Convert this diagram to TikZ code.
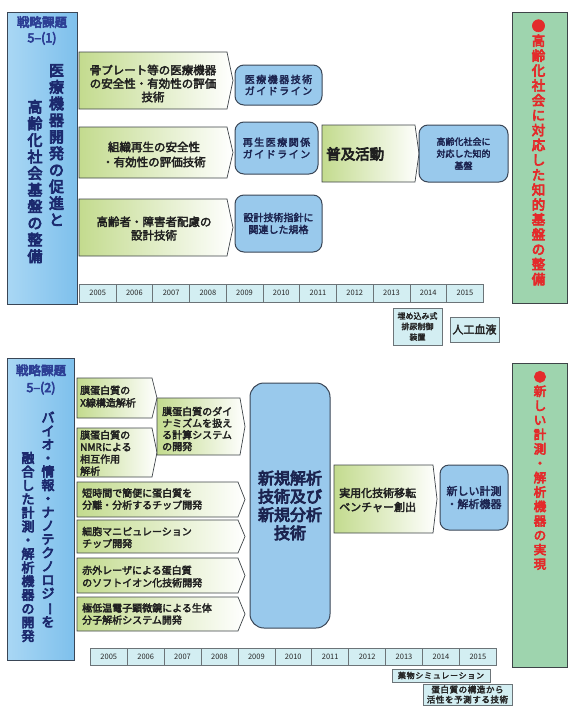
\documentclass[tikz,border=0pt]{standalone}
\usepackage{fontspec}
\setmainfont{Noto Sans CJK JP}[BoldFont={Noto Sans CJK JP}, BoldFeatures={FakeBold=3}]
\newfontfamily\heavy{Noto Sans CJK JP}[FakeBold=5]
\usepackage{graphicx}
\definecolor{navy}{HTML}{1C2A6E}
\definecolor{hdr}{HTML}{2D3F95}
\definecolor{bfill}{HTML}{99C9EC}
\definecolor{bline}{HTML}{3A4656}
\definecolor{btext}{HTML}{1C2450}
\definecolor{gleft}{HTML}{C3DB8E}
\definecolor{gline}{HTML}{3E4448}
\definecolor{gtext}{HTML}{202020}
\definecolor{cfill}{HTML}{D3EEF2}
\definecolor{cline}{HTML}{6C7478}
\definecolor{rtext}{HTML}{E32B2B}
\definecolor{lpl}{HTML}{A9D7F4}
\definecolor{lpm}{HTML}{CDEAFB}
\definecolor{lpr}{HTML}{7EC0EC}
\definecolor{rpl}{HTML}{9ED4AE}
\definecolor{rpm}{HTML}{E2F2DA}
\newcommand\vbar{\rotatebox[origin=c]{-90}{ー}}
\newcommand\fs[2]{\fontsize{#1}{#2}\selectfont}
\newcommand\gshape[5]{\path[gbox] (#1,#2) -- (#3,#2) -- (#5,{(#2+#4)/2}) -- (#3,#4) -- (#1,#4) -- cycle;}
\tikzset{
  lpanel/.style={draw=bline, line width=0.9pt, left color=lpl, middle color=lpm, right color=lpr, inner sep=0pt, anchor=north west},
  rpanel/.style={draw=gline, line width=0.9pt, left color=rpl, middle color=rpm, right color=rpl, inner sep=0pt, anchor=north west},
  gbox/.style={draw=gline, line width=0.7pt, left color=gleft, right color=white},
  bbox/.style={draw=bline, line width=1pt, fill=bfill, rounded corners=9pt, inner sep=0pt, align=center, text=btext},
  cell/.style={draw=cline, line width=0.6pt, fill=cfill, inner sep=0pt, anchor=north west, font=\mdseries\fs{7.5}{9}, text=black!85},
  ebox/.style={draw=cline, line width=0.8pt, fill=cfill, inner sep=0pt, align=center, text=black!85},
  txt/.style={inner sep=0pt, align=center},
  ltxt/.style={inner sep=0pt, align=left, anchor=west, text=gtext},
}
\begin{document}
\begin{tikzpicture}[x=1pt,y=-1pt,font=\bfseries]
\useasboundingbox (0,0) rectangle (573,710);

% ===== top section =====
\node[lpanel, minimum width=70pt, minimum height=292pt] (lp1) at (7,12) {};
\node[txt, text=hdr, font=\heavy\fs{12.5}{15.5}] (hd1) at (42,30.5) {戦略課題\\5–(1)};
\node[txt, text=navy, font=\heavy\fs{15}{16.6}] (v1a) at (56.5,145) {医\\療\\機\\器\\開\\発\\の\\促\\進\\と};
\node[txt, text=navy, font=\heavy\fs{15}{16.6}] (v1b) at (35,181.5) {高\\齢\\化\\社\\会\\基\\盤\\の\\整\\備};

\gshape{79}{52}{227}{109}{233}
\node[txt, text=gtext, font=\bfseries\fs{11.5}{13.5}] (g1) at (153,83.5) {骨プレート等の医療機器\\の安全性・有効性の評価\\技術};
\gshape{79}{127}{227}{178}{233}
\node[txt, text=gtext, font=\bfseries\fs{11.5}{15}] (g2) at (154,154.5) {組織再生の安全性\\・有効性の評価技術};
\gshape{79}{199}{227}{256}{233}
\node[txt, text=gtext, font=\bfseries\fs{11.5}{13.5}] (g3) at (154,228.5) {高齢者・障害者配慮の\\設計技術};

\node[bbox, minimum width=87pt, minimum height=40pt, font=\bfseries\fs{10}{11.5}\addfontfeatures{LetterSpace=15}] (b1) at (278.5,85) {医療機器技術\\ガイドライン};
\node[bbox, minimum width=83pt, minimum height=52pt, font=\bfseries\fs{10}{12}\addfontfeatures{LetterSpace=15}] (b2) at (276.5,148) {再生医療関係\\ガイドライン};
\node[bbox, minimum width=87pt, minimum height=57pt, font=\bfseries\fs{10}{12}] (b3) at (278.5,223.5) {設計技術指針に\\関連した規格};

\gshape{322}{125}{415}{182}{419}
\node[txt, anchor=west, text=gtext, font=\heavy\fs{14.5}{16}] (g4) at (326,154) {普及活動};
\node[bbox, minimum width=89pt, minimum height=57pt, font=\bfseries\fs{9}{12}] (b4) at (463.5,153.5) {高齢化社会に\\対応した知的\\基盤};

\node[rpanel, minimum width=55pt, minimum height=291pt] (rp1) at (512,12) {};
\node[txt, text=rtext, font=\heavy\fs{13.5}{14.9}] (r1) at (538.5,152.5) {●\\高\\齢\\化\\社\\会\\に\\対\\応\\し\\た\\知\\的\\基\\盤\\の\\整\\備};

\foreach \i in {0,...,10}{
  \pgfmathtruncatemacro\yr{2005+\i}
  \node[cell, minimum width=36.727pt, minimum height=18pt] (ta\i) at ({79+36.727*\i},284) {\yr};
}
\node[ebox, minimum width=49pt, minimum height=37pt, font=\bfseries\fs{8}{10.5}] (e1) at (417.5,326.5) {埋め込み式\\排尿制御\\装置};
\node[ebox, minimum width=49pt, minimum height=25pt, font=\bfseries\fs{11}{13}] (e2) at (474.5,329.5) {人工血液};

% ===== bottom section =====
\node[lpanel, minimum width=67pt, minimum height=302pt] (lp2) at (7,358) {};
\node[txt, text=hdr, font=\heavy\fs{12.5}{17}] (hd2) at (41,379.5) {戦略課題\\5–(2)};
\node[txt, text=navy, font=\heavy\fs{13}{13.53}] (v2a) at (48,519.5) {バ\\イ\\オ\\・\\情\\報\\・\\ナ\\ノ\\テ\\ク\\ノ\\ロ\\ジ\\\vbar\\を};
\node[txt, text=navy, font=\heavy\fs{13}{13.7}] (v2b) at (28,547) {融\\合\\し\\た\\計\\測\\・\\解\\析\\機\\器\\の\\開\\発};

\gshape{77}{378}{152}{418}{157}
\node[ltxt, font=\bfseries\fs{10}{12.5}] (k1) at (80,396.5) {膜蛋白質の\\X線構造解析};
\gshape{77}{428}{152}{477}{157}
\node[ltxt, font=\bfseries\fs{10}{12}] (k2) at (80,453) {膜蛋白質の\\NMRによる\\相互作用\\解析};
\gshape{157}{398}{240}{455}{245}
\node[ltxt, font=\bfseries\fs{10}{11.7}] (k3) at (162,429) {膜蛋白質のダイ\\ナミズムを扱え\\る計算システム\\の開発};
\gshape{77}{482}{238}{517}{245}
\node[ltxt, font=\bfseries\fs{10}{12}] (k4) at (82,499) {短時間で簡便に蛋白質を\\分離・分析するチップ開発};
\gshape{77}{520}{238}{553}{245}
\node[ltxt, font=\bfseries\fs{10}{12}] (k5) at (82,537.5) {細胞マニピュレーション\\チップ開発};
\gshape{77}{558}{238}{593}{245}
\node[ltxt, font=\bfseries\fs{10}{12.5}] (k6) at (82,576.5) {赤外レーザによる蛋白質\\のソフトイオン化技術開発};
\gshape{77}{597}{238}{631}{245}
\node[ltxt, font=\bfseries\fs{10}{12}] (k7) at (82,614) {極低温電子顕微鏡による生体\\分子解析システム開発};

\node[bbox, rounded corners=14pt, minimum width=80pt, minimum height=245pt, font=\heavy\fs{16}{18.3}] (bb) at (290,505.5) {新規解析\\技術及び\\新規分析\\技術};

\gshape{334}{465}{433}{533}{437}
\node[ltxt, font=\bfseries\fs{11}{14}] (k8) at (339,500) {実用化技術移転\\ベンチャー創出};
\node[bbox, minimum width=68pt, minimum height=65pt, font=\bfseries\fs{11}{13}] (b5) at (474,497.5) {新しい計測\\・解析機器};

\node[rpanel, minimum width=55pt, minimum height=304pt] (rp2) at (512,363) {};
\node[txt, text=rtext, font=\heavy\fs{12.5}{14.4}] (r2) at (540,470.5) {●\\新\\し\\い\\計\\測\\・\\解\\析\\機\\器\\の\\実\\現};

\foreach \i in {0,...,10}{
  \pgfmathtruncatemacro\yr{2005+\i}
  \node[cell, minimum width=36.909pt, minimum height=17pt] (tb\i) at ({90+36.909*\i},648) {\yr};
}
\node[ebox, minimum width=98pt, minimum height=13pt, font=\bfseries\fs{8}{9}\addfontfeatures{LetterSpace=9}] (e3) at (441,675.5) {薬物シミュレーション};
\node[ebox, minimum width=89pt, minimum height=21pt, font=\bfseries\fs{8.5}{10}\addfontfeatures{LetterSpace=7}] (e4) at (467.5,694.5) {蛋白質の構造から\\活性を予測する技術};
\end{tikzpicture}
\end{document}
